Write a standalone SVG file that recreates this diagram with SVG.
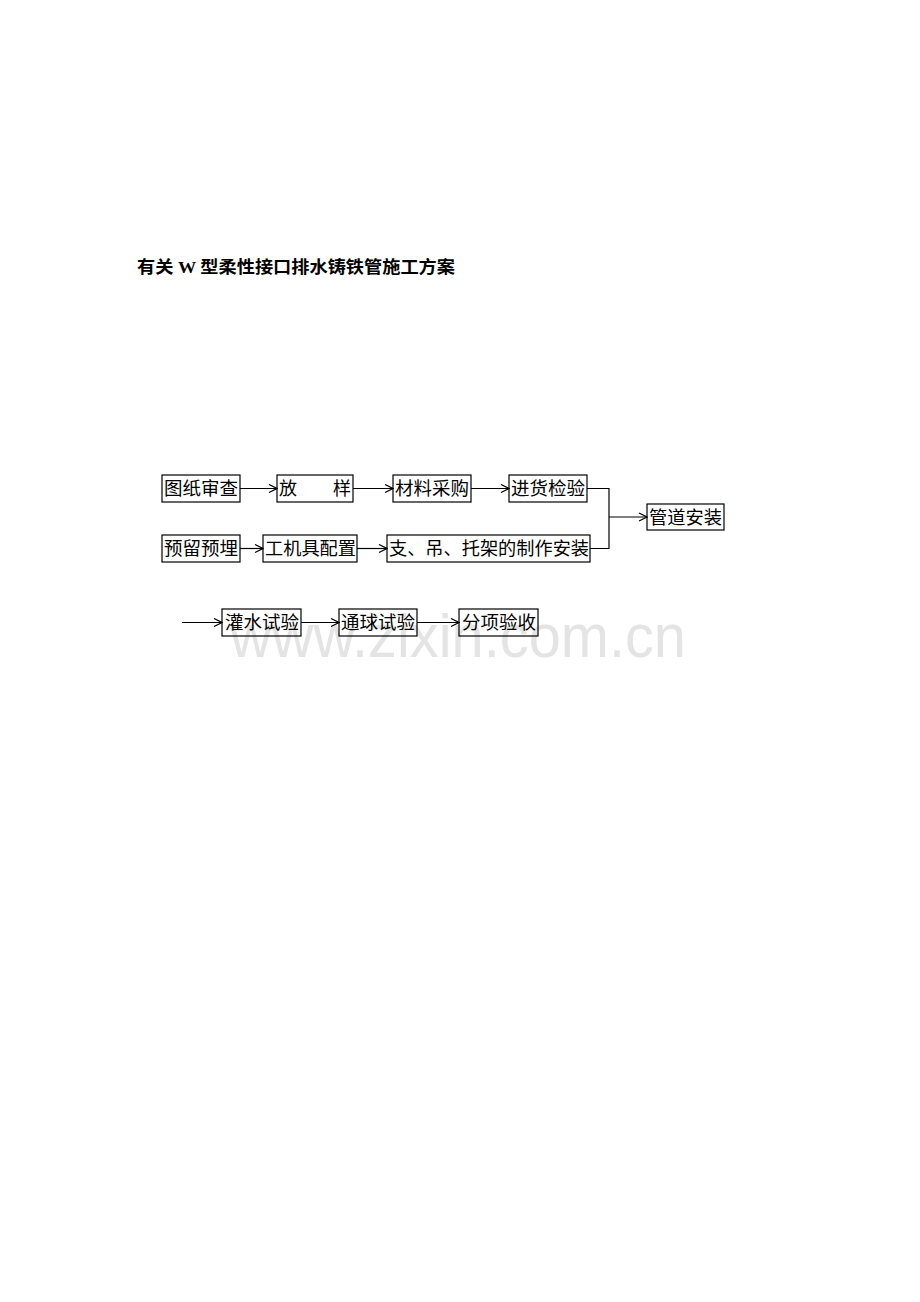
<svg xmlns="http://www.w3.org/2000/svg" width="920" height="1302" viewBox="0 0 920 1302">
<defs>
<style>
.box{fill:none;stroke:#000;stroke-width:1.2}
.lbl{font-family:"Liberation Serif","Noto Sans CJK SC",serif;font-size:18px;fill:#000}
.con{fill:none;stroke:#000;stroke-width:1.2}
.wm{font-family:"Liberation Sans",sans-serif;font-size:62px;fill:#e4e4e4}
</style>
<marker id="ah" markerWidth="10" markerHeight="10" refX="9" refY="5" orient="auto" markerUnits="userSpaceOnUse">
<path d="M1,1 L9,5 L1,9" fill="none" stroke="#000" stroke-width="1.2"/>
</marker>
</defs>
<rect width="920" height="1302" fill="#fff"/>
<text class="wm" x="230" y="657" textLength="456" lengthAdjust="spacingAndGlyphs">www.zixin.com.cn</text>
<text x="137" y="273" font-family="Liberation Serif,'Noto Sans CJK SC',serif" font-size="17" font-weight="bold" textLength="318" lengthAdjust="spacingAndGlyphs">有关 W 型柔性接口排水铸铁管施工方案</text>
<g id="connectors">
<line class="con" x1="240" y1="488.5" x2="277" y2="488.5" marker-end="url(#ah)"/>
<line class="con" x1="353" y1="488.5" x2="393" y2="488.5" marker-end="url(#ah)"/>
<line class="con" x1="471" y1="488.5" x2="509" y2="488.5" marker-end="url(#ah)"/>
<line class="con" x1="240" y1="548.5" x2="263" y2="548.5" marker-end="url(#ah)"/>
<line class="con" x1="357" y1="548.5" x2="387" y2="548.5" marker-end="url(#ah)"/>
<polyline class="con" points="587,488.5 609,488.5 609,548.5 590,548.5"/>
<line class="con" x1="609" y1="517" x2="647" y2="517" marker-end="url(#ah)"/>
<line class="con" x1="182" y1="622.5" x2="222" y2="622.5" marker-end="url(#ah)"/>
<line class="con" x1="301" y1="622.5" x2="339" y2="622.5" marker-end="url(#ah)"/>
<line class="con" x1="417" y1="622.5" x2="459" y2="622.5" marker-end="url(#ah)"/>
</g>
<g id="n1"><rect class="box" x="162" y="475" width="78" height="27"/><text class="lbl" x="164" y="495" textLength="74" lengthAdjust="spacingAndGlyphs">图纸审查</text></g>
<g id="n2"><rect class="box" x="277" y="475" width="76" height="27"/><text class="lbl" x="279" y="495">放</text><text class="lbl" x="333" y="495">样</text></g>
<g id="n3"><rect class="box" x="393" y="475" width="78" height="27"/><text class="lbl" x="395" y="495" textLength="74" lengthAdjust="spacingAndGlyphs">材料采购</text></g>
<g id="n4"><rect class="box" x="509" y="475" width="78" height="27"/><text class="lbl" x="511" y="495" textLength="74" lengthAdjust="spacingAndGlyphs">进货检验</text></g>
<g id="n5"><rect class="box" x="647" y="504" width="77" height="26"/><text class="lbl" x="649" y="524" textLength="73" lengthAdjust="spacingAndGlyphs">管道安装</text></g>
<g id="n6"><rect class="box" x="162" y="535" width="78" height="27"/><text class="lbl" x="164" y="555" textLength="74" lengthAdjust="spacingAndGlyphs">预留预埋</text></g>
<g id="n7"><rect class="box" x="263" y="535" width="94" height="27"/><text class="lbl" x="265" y="555" textLength="91" lengthAdjust="spacingAndGlyphs">工机具配置</text></g>
<g id="n8"><rect class="box" x="387" y="535" width="203" height="27"/><text class="lbl" x="389" y="555" textLength="200" lengthAdjust="spacingAndGlyphs">支、吊、托架的制作安装</text></g>
<g id="n9"><rect class="box" x="222" y="609" width="79" height="27"/><text class="lbl" x="225" y="629" textLength="74" lengthAdjust="spacingAndGlyphs">灌水试验</text></g>
<g id="n10"><rect class="box" x="339" y="609" width="78" height="27"/><text class="lbl" x="341" y="629" textLength="74" lengthAdjust="spacingAndGlyphs">通球试验</text></g>
<g id="n11"><rect class="box" x="459" y="609" width="79" height="27"/><text class="lbl" x="462" y="629" textLength="74" lengthAdjust="spacingAndGlyphs">分项验收</text></g>
</svg>
